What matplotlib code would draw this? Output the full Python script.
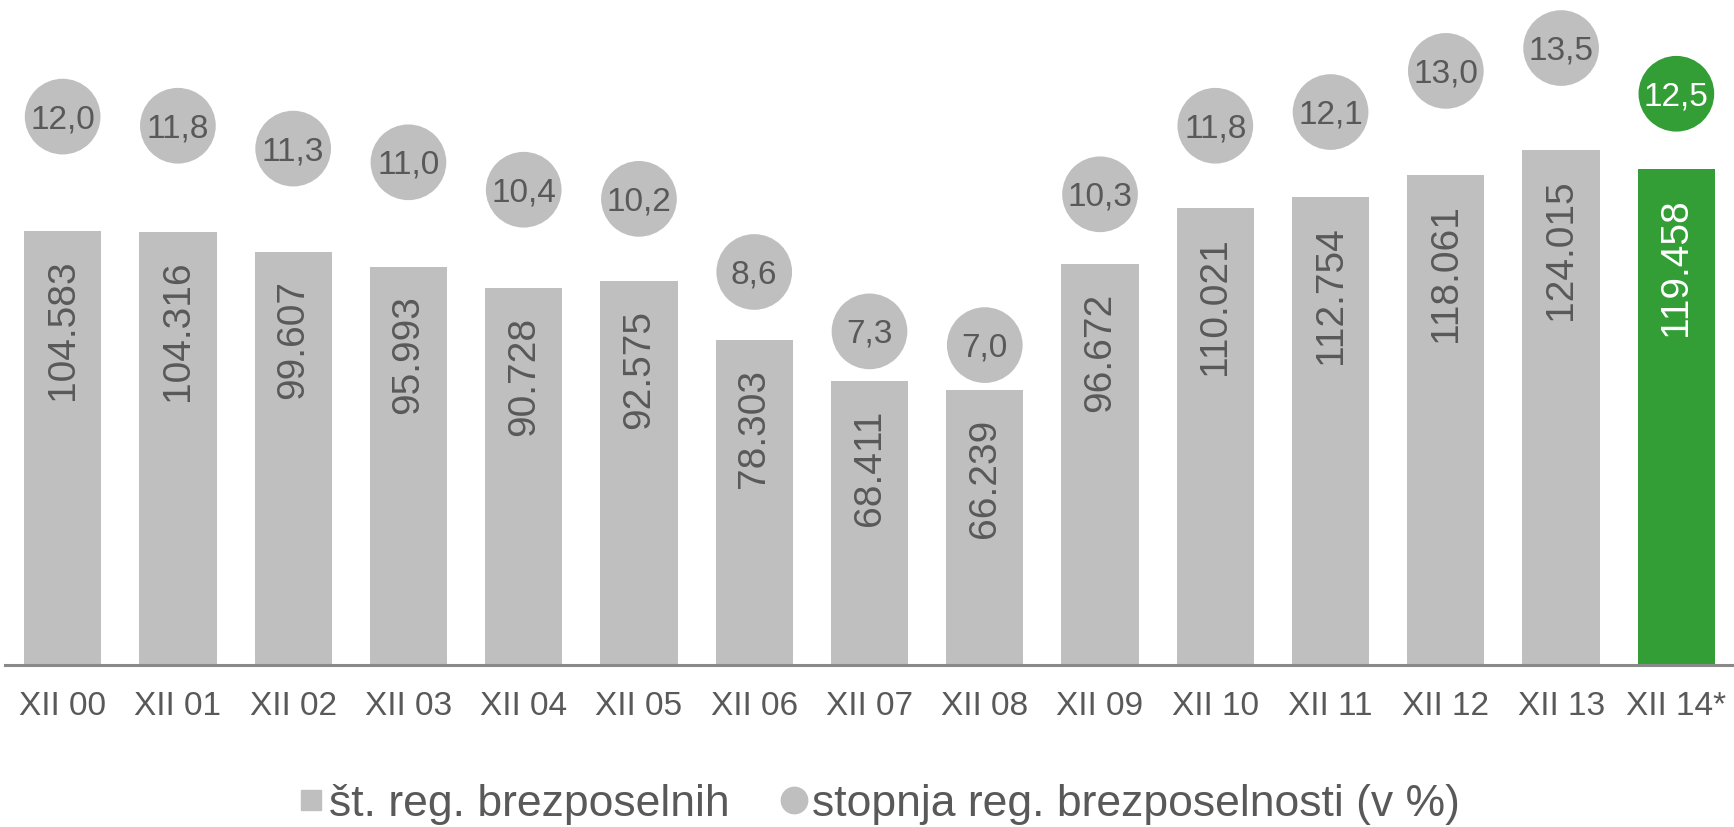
import matplotlib
matplotlib.use("Agg")
import matplotlib.pyplot as plt
from matplotlib.lines import Line2D

plt.rcParams['font.family'] = ['Liberation Sans', 'DejaVu Sans']

categories = ["XII 00", "XII 01", "XII 02", "XII 03", "XII 04", "XII 05", "XII 06",
              "XII 07", "XII 08", "XII 09", "XII 10", "XII 11", "XII 12", "XII 13", "XII 14*"]
registered = [104583, 104316, 99607, 95993, 90728, 92575, 78303, 68411, 66239,
              96672, 110021, 112754, 118061, 124015, 119458]
rate = [12.0, 11.8, 11.3, 11.0, 10.4, 10.2, 8.6, 7.3, 7.0, 10.3, 11.8, 12.1, 13.0, 13.5, 12.5]
bar_labels = ["104.583", "104.316", "99.607", "95.993", "90.728", "92.575", "78.303",
              "68.411", "66.239", "96.672", "110.021", "112.754", "118.061", "124.015", "119.458"]
rate_labels = ["12,0", "11,8", "11,3", "11,0", "10,4", "10,2", "8,6", "7,3", "7,0",
               "10,3", "11,8", "12,1", "13,0", "13,5", "12,5"]
legend_labels = ["št. reg. brezposelnih", "stopnja reg. brezposelnosti (v %)"]

GREY = "#BFBFBF"
GREEN = "#339E35"
TEXT = "#595959"

W, H = 1734, 828
fig = plt.figure(figsize=(W / 100, H / 100), dpi=100)
ax = fig.add_axes([5 / W, 1 - 666 / H, 1 - 5 / W, 666 / H])

n = len(categories)
x = list(range(n))
colors = [GREY] * (n - 1) + [GREEN]
ax.bar(x, registered, width=0.67, color=colors, zorder=2)
ax.set_xlim(-0.5, n - 0.5)
ax.set_ylim(0, 666 / 0.00415)

for i, (v, lab) in enumerate(zip(registered, bar_labels)):
    ax.annotate(lab, (i, v), xytext=(0, -20), textcoords='offset points',
                rotation=90, ha='center', va='top', fontsize=28,
                color='white' if i == n - 1 else TEXT, zorder=3)

for s in ['top', 'right', 'left']:
    ax.spines[s].set_visible(False)
ax.spines['bottom'].set_color('#898989')
ax.spines['bottom'].set_linewidth(2.2)
ax.spines['bottom'].set_zorder(4)
ax.set_yticks([])
ax.set_xticks(x)
ax.set_xticklabels(categories, fontsize=24, color=TEXT)
ax.tick_params(axis='x', length=0, pad=18)

ax2 = ax.twinx()
ax2.set_ylim(0, 666 / 45.7)
ax2.set_yticks([])
for s in ax2.spines.values():
    s.set_visible(False)
ax2.scatter(x, rate, s=54.5 ** 2, c=colors, zorder=3, linewidths=0)
for i, (r, lab) in enumerate(zip(rate, rate_labels)):
    ax2.annotate(lab, (i, r), xytext=(0, -1.5), textcoords='offset points',
                 ha='center', va='center', fontsize=24,
                 color='white' if i == n - 1 else TEXT, zorder=4)

handles = [Line2D([], [], marker='s', color=GREY, ls='none', markersize=14),
           Line2D([], [], marker='o', color=GREY, ls='none', markersize=19)]
fig.legend(handles, legend_labels, loc='center', bbox_to_anchor=(880 / W, 1 - 805 / H),
           ncol=2, frameon=False, fontsize=32, handlelength=0.5, handletextpad=0.15,
           columnspacing=1.2, labelcolor=TEXT, borderpad=0, borderaxespad=0)

fig.savefig("out.png", dpi=100)
